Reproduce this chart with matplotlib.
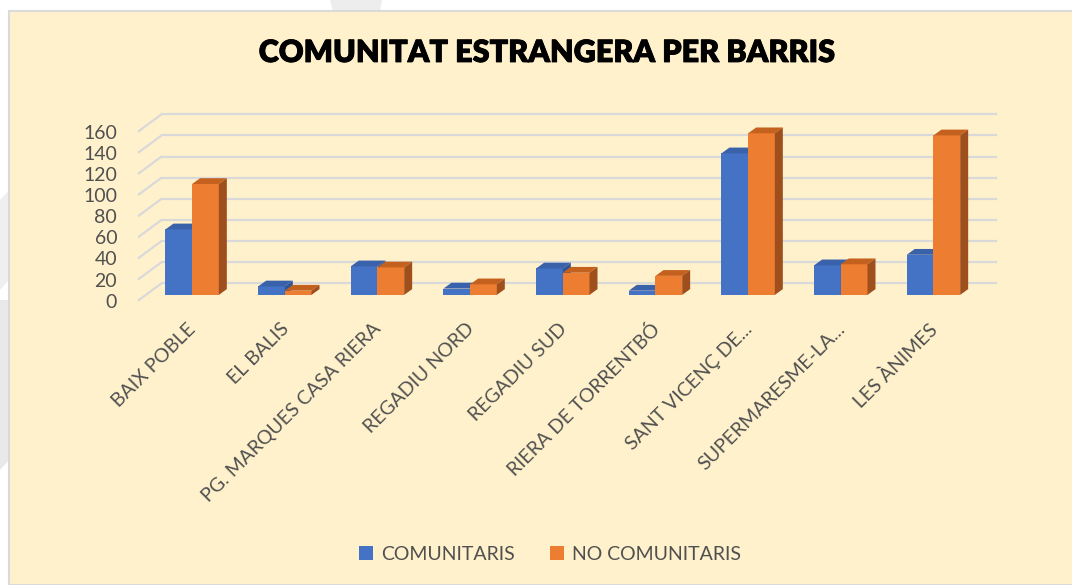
import matplotlib
matplotlib.use("Agg")
import matplotlib.pyplot as plt
from matplotlib.patches import Polygon, Rectangle, Patch
from matplotlib.lines import Line2D
import matplotlib.patheffects as pe

# ---------------- data ----------------
categories = ["BAIX POBLE", "EL BALIS", "PG. MARQUES CASA RIERA", "REGADIU NORD",
              "REGADIU SUD", "RIERA DE TORRENTBÓ", "SANT VICENÇ DE...",
              "SUPERMARESME-LA...", "LES ÀNIMES"]
comunitaris = [62, 8, 27, 6, 25, 4, 134, 28, 38]
no_comunitaris = [105, 4, 26, 10, 21, 18, 153, 29, 151]
series_names = ["COMUNITARIS", "NO COMUNITARIS"]
yticks = [0, 20, 40, 60, 80, 100, 120, 140, 160]
title = "COMUNITAT ESTRANGERA PER BARRIS"

# ---------------- style ----------------
W, H, DPI = 1072, 585, 100
BG = "#FFF1CC"
GRID = "#D9D9D9"
TXT = "#505050"
front_cols = ["#4472C4", "#ED7D31"]
top_cols = ["#3A62AA", "#C5611E"]
side_cols = ["#2F5597", "#9E4F1B"]
FONT = "Lato"

fig = plt.figure(figsize=(W / DPI, H / DPI), dpi=DPI)
fig.patch.set_facecolor("white")

# chart area background with border and decorative gray shapes at edges
fig.add_artist(Polygon([[0, 1 - 300 / H], [9 / W, 1 - 300 / H], [9 / W, 1 - 460 / H], [0, 1 - 470 / H]],
                       closed=True, transform=fig.transFigure, facecolor="#E9E9E9", edgecolor="none", zorder=-2))
fig.add_artist(Polygon([[0, 1 - 200 / H], [9 / W, 1 - 190 / H], [9 / W, 1 - 280 / H], [0, 1 - 290 / H]],
                       closed=True, transform=fig.transFigure, facecolor="#EFEFEF", edgecolor="none", zorder=-2))
fig.add_artist(Polygon([[330 / W, 1.0], [382 / W, 1.0], [380 / W, 1 - 11 / H], [333 / W, 1 - 11 / H]],
                       closed=True, transform=fig.transFigure, facecolor="#EDEDED", edgecolor="none", zorder=-2))
fig.add_artist(Rectangle((9 / W, 0), 1 - 9 / W + 0.01, 1 - 11 / H, transform=fig.transFigure,
                         facecolor=BG, edgecolor="#DADADA", linewidth=1.5, zorder=-1))

# axes = front plane of the 3D box
x0_px, x1_px = 138, 972
y0_px, y1_px = 300.7, 131.7
ax = fig.add_axes([x0_px / W, 1 - y0_px / H, (x1_px - x0_px) / W, (y0_px - y1_px) / H])
ax.set_zorder(2)
ax.set_facecolor("none")
n = len(categories)
ax.set_xlim(-0.5, n - 0.5)
ax.set_ylim(0, 160)
for s in ax.spines.values():
    s.set_visible(False)

sx = (x1_px - x0_px) / n          # px per category unit
sy = (y0_px - y1_px) / 160.0      # px per value unit

# depth offsets (pixels -> data units)
wall_dx, wall_dy = 23.5 / sx, 17.4 / sy
plane_dx, plane_dy = 7.8 / sx, 5.8 / sy
bar_dx, bar_dy = 8.0 / sx, 5.8 / sy
bw = 26.7 / sx

# back wall gridlines + side wall diagonals
for v in yticks:
    ax.add_line(Line2D([-0.5, -0.5 + wall_dx], [v, v + wall_dy], color=GRID, lw=1.6,
                       zorder=1, clip_on=False, solid_capstyle="butt"))
    ax.add_line(Line2D([-0.5 + wall_dx, n - 0.5 + wall_dx], [v + wall_dy, v + wall_dy],
                       color=GRID, lw=1.6, zorder=1, clip_on=False))


def draw_bar(xl, val, k, z):
    xb = xl + plane_dx
    yb = plane_dy
    ax.add_patch(Rectangle((xb, yb), bw, val, facecolor=front_cols[k], edgecolor="none",
                           zorder=z, clip_on=False))
    ax.add_patch(Polygon([[xb, yb + val], [xb + bw, yb + val],
                          [xb + bw + bar_dx, yb + val + bar_dy], [xb + bar_dx, yb + val + bar_dy]],
                         closed=True, facecolor=top_cols[k], edgecolor="none", zorder=z, clip_on=False))
    ax.add_patch(Polygon([[xb + bw, yb], [xb + bw, yb + val],
                          [xb + bw + bar_dx, yb + val + bar_dy], [xb + bw + bar_dx, yb + bar_dy]],
                         closed=True, facecolor=side_cols[k], edgecolor="none", zorder=z, clip_on=False))


z = 3
for i in range(n):
    draw_bar(i - bw, comunitaris[i], 0, z)
    z += 0.01
    draw_bar(i, no_comunitaris[i], 1, z)
    z += 0.01

# y ticks
ax.set_yticks(yticks)
ax.set_yticklabels([str(v) for v in yticks], fontsize=14, color=TXT, family=FONT)
ax.tick_params(axis="y", length=0, pad=15)

# x tick labels (rotated)
ax.set_xticks([i + plane_dx - 5.0 / sx for i in range(n)])
ax.set_xticklabels(categories, fontsize=14, color=TXT, family=FONT,
                   rotation=45, ha="right", va="top", rotation_mode="anchor")
ax.tick_params(axis="x", length=0, pad=14)

# title
fig.text(546 / W, 1 - 53 / H, title, ha="center", va="center", fontsize=22,
         fontweight="heavy", family=FONT, color="black",
         path_effects=[pe.withStroke(linewidth=0.6, foreground="black")])

# legend
handles = [Patch(facecolor=front_cols[0], edgecolor="none"),
           Patch(facecolor=front_cols[1], edgecolor="none")]
leg = fig.legend(handles, series_names, loc="center", bbox_to_anchor=(550 / W, 1 - 554.5 / H),
                 ncol=2, frameon=False, prop={"family": FONT, "size": 14},
                 handlelength=0.75, handleheight=0.75, handletextpad=0.4, columnspacing=1.8)
for t in leg.get_texts():
    t.set_color(TXT)

fig.savefig("out.png", dpi=DPI, facecolor=fig.get_facecolor())
